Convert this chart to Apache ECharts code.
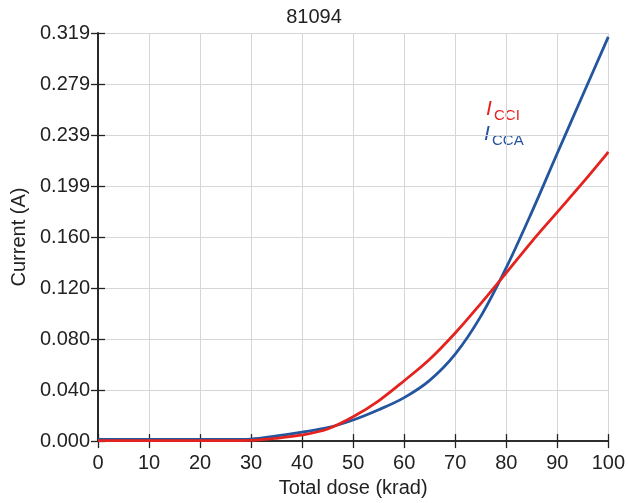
<!DOCTYPE html>
<html>
<head>
<meta charset="utf-8">
<script src="https://cdn.jsdelivr.net/npm/echarts@6/dist/echarts.min.js"></script>
<style>
html,body{margin:0;padding:0;background:#fff;}
#chart{width:628px;height:503px;}
</style>
</head>
<body>
<div id="chart"></div>
<script>
var doses = [0,5,10,15,20,25,30,35,40,45,50,55,60,65,70,75,80,85,90,95,100];
var iCCA = [0.0013,0.0013,0.0013,0.0013,0.0013,0.0013,0.0016,0.0040,0.0070,0.0105,0.0165,0.0245,0.0340,0.0475,0.0680,0.0975,0.1356,0.1790,0.2250,0.2705,0.3160];
var iCCI = [0.0004,0.0004,0.0004,0.0004,0.0004,0.0004,0.0006,0.0022,0.0048,0.0095,0.0190,0.0315,0.0472,0.0640,0.0845,0.1075,0.1315,0.1560,0.1790,0.2020,0.2260];
var yTickLabels = ['0.000','0.040','0.080','0.120','0.160','0.199','0.239','0.279','0.319'];
var yMax = 0.319;
var yInterval = yMax / 8;

var FONT = 'Liberation Sans, Arial, Helvetica, sans-serif';
var TXT = '#222';
var RED = '#e4231f';
var BLUE = '#24559f';

function pairs(xs, ys){ return xs.map(function(x,i){ return [x, ys[i]]; }); }
function yLabel(v){ var i = Math.round(v / yInterval); return yTickLabels[i] !== undefined ? yTickLabels[i] : ''; }

var chart = echarts.init(document.getElementById('chart'), null, {renderer:'canvas'});
var axisLineStyle = {color:'#222', width:1.6};
chart.setOption({
  animation:false,
  backgroundColor:'#fff',
  textStyle:{fontFamily:FONT},
  title:{text:'81094', left:'center', top:2, padding:5,
    textStyle:{fontFamily:FONT, fontSize:20, fontWeight:'normal', color:TXT}},
  grid:{left:98, right:17, top:33, bottom:61, containLabel:false},
  xAxis:[{
    type:'value', min:0, max:100, interval:10, position:'bottom',
    name:'Total dose (krad)', nameLocation:'middle', nameGap:36,
    nameTextStyle:{fontFamily:FONT, fontSize:20, color:TXT},
    axisLine:{show:true, lineStyle:axisLineStyle},
    axisTick:{show:true, inside:true, length:7, lineStyle:{color:'#222', width:1.3}},
    axisLabel:{fontFamily:FONT, fontSize:20, color:TXT, margin:12, showMaxLabel:true},
    splitLine:{show:true, lineStyle:{color:'#d6d6d6', width:1}}
  },{
    type:'value', min:0, max:100, interval:10, position:'top',
    axisLine:{show:true, lineStyle:axisLineStyle},
    axisTick:{show:true, inside:true, length:7, lineStyle:{color:'#222', width:1.3}},
    axisLabel:{show:false}, splitLine:{show:false}
  }],
  yAxis:[{
    type:'value', min:0, max:yMax, interval:yInterval, position:'left',
    name:'Current (A)', nameLocation:'middle', nameGap:66, nameRotate:90,
    nameTextStyle:{fontFamily:FONT, fontSize:20, color:TXT},
    axisLine:{show:true, lineStyle:axisLineStyle},
    axisTick:{show:true, inside:true, length:7, lineStyle:{color:'#222', width:1.3}},
    axisLabel:{fontFamily:FONT, fontSize:20, color:TXT, margin:8, formatter:yLabel},
    splitLine:{show:true, lineStyle:{color:'#d6d6d6', width:1}}
  },{
    type:'value', min:0, max:yMax, interval:yInterval, position:'right',
    axisLine:{show:true, lineStyle:axisLineStyle},
    axisTick:{show:true, inside:true, length:7, lineStyle:{color:'#222', width:1.3}},
    axisLabel:{show:false}, splitLine:{show:false}
  }],
  series:[{
    name:'ICCA', type:'line', xAxisIndex:0, yAxisIndex:0,
    data:pairs(doses, iCCA), showSymbol:false, smooth:0.35,
    lineStyle:{color:BLUE, width:2.8}, itemStyle:{color:BLUE}, z:3
  },{
    name:'ICCI', type:'line', xAxisIndex:0, yAxisIndex:0,
    data:pairs(doses, iCCI), showSymbol:false, smooth:0.35,
    lineStyle:{color:RED, width:2.8}, itemStyle:{color:RED}, z:4
  }],
  graphic:[
    {type:'text', left:486, top:99, style:{text:'I', fontFamily:FONT, fontSize:21, fontStyle:'italic', fill:RED}},
    {type:'text', left:494, top:108, style:{text:'CCI', fontFamily:FONT, fontSize:15, fill:RED}},
    {type:'text', left:484, top:124, style:{text:'I', fontFamily:FONT, fontSize:21, fontStyle:'italic', fill:BLUE}},
    {type:'text', left:492, top:133, style:{text:'CCA', fontFamily:FONT, fontSize:15, fill:BLUE}}
  ]
});
</script>
</body>
</html>
